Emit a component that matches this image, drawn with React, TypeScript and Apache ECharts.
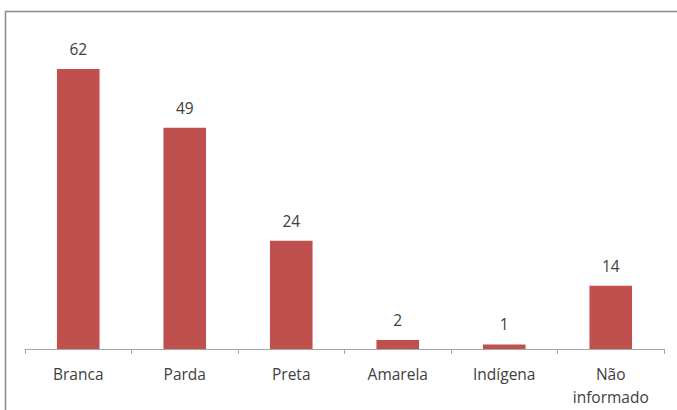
import React, { useEffect, useRef } from "react";
import * as echarts from "echarts";

const categories = ["Branca", "Parda", "Preta", "Amarela", "Indígena", "Não\ninformado"];
const values = [62, 49, 24, 2, 1, 14];

export default function App() {
  const ref = useRef<HTMLDivElement>(null);
  useEffect(() => {
    const chart = echarts.init(ref.current!, undefined, { renderer: "svg" });
    chart.setOption({
      animation: false,
      backgroundColor: "#ffffff",
      grid: { left: 25, right: 13, top: 33, bottom: 61 },
      graphic: [
        {
          type: "polyline",
          shape: { points: [[5.5, 420], [5.5, 11.5], [690, 11.5]] },
          style: { stroke: "#8a8a8a", fill: "none", lineWidth: 1.5 },
        },
      ],
      xAxis: {
        type: "category",
        data: categories,
        axisLine: { lineStyle: { color: "#a6a6a6", width: 1 } },
        axisTick: { show: true, length: 5, lineStyle: { color: "#a6a6a6" } },
        axisLabel: {
          color: "#404040",
          fontFamily: "'Open Sans', sans-serif",
          fontSize: 15.5,
          lineHeight: 23,
          margin: 13,
          interval: 0,
        },
      },
      yAxis: {
        type: "value",
        min: 0,
        max: 70,
        show: false,
        splitLine: { show: false },
      },
      series: [
        {
          type: "bar",
          data: values,
          barWidth: "40%",
          itemStyle: { color: "#c0504d" },
          label: {
            show: true,
            position: "top",
            distance: 12,
            color: "#404040",
            fontFamily: "'Open Sans', sans-serif",
            fontSize: 15.5,
          },
        },
      ],
    });
    return () => chart.dispose();
  }, []);
  return (
    <div
      ref={ref}
      style={{ position: "fixed", left: 0, top: 0, width: 677, height: 410 }}
    />
  );
}
